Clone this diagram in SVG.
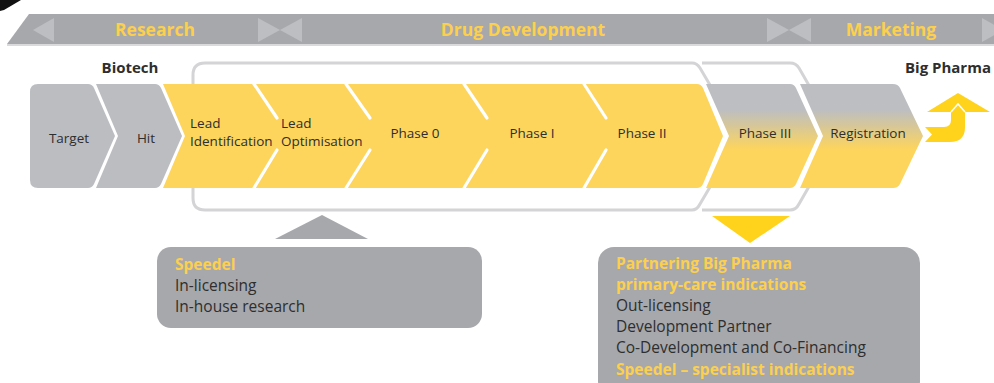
<svg xmlns="http://www.w3.org/2000/svg" width="994" height="383" viewBox="0 0 994 383">
<style>
text{font-family:"Open Sans","Liberation Sans",sans-serif;}
.hdr{font-size:17.5px;font-weight:bold;fill:#FCD04E;text-anchor:middle;}
.lbl{font-size:13.5px;fill:#2E2E2E;}
.mid{text-anchor:middle;}
.who{font-size:15px;font-weight:bold;fill:#2E2E2E;}
.box{font-size:15.5px;fill:#2E2E2E;}
.ybox{font-size:15.5px;font-weight:bold;fill:#FCD04E;}
.band-tri{fill:#BDBEC2;}
.sep{stroke:#FFFFFF;stroke-width:3.2;stroke-linecap:round;fill:none;}
.bracket{fill:none;stroke:#D4D4D6;stroke-width:3;}
</style>
<defs>
<linearGradient id="gy" gradientUnits="userSpaceOnUse" x1="0" y1="84" x2="0" y2="188">
<stop offset="0.25" stop-color="#BDBEC1"/>
<stop offset="0.63" stop-color="#FDD55D"/>
</linearGradient>
</defs>
<rect width="994" height="383" fill="#FFFFFF"/>
<polygon points="0,0 21,0 4,10 0,11" fill="#111111"/>
<g id="band">
<rect x="7" y="44" width="987" height="2" fill="#DADADC"/>
<polygon points="29,14 994,14 994,44 7,44" fill="#A7A8AC"/>
<polygon class="band-tri" points="33,30 54,18 54,42"/>
<polygon class="band-tri" points="258,18 280,30 258,42"/>
<polygon class="band-tri" points="302,18 280,30 302,42"/>
<polygon class="band-tri" points="767,18 789,30 767,42"/>
<polygon class="band-tri" points="811,18 789,30 811,42"/>
<polygon class="band-tri" points="982,18 1003,30 982,42"/>
<text class="hdr" x="155" y="36">Research</text>
<text class="hdr" x="523" y="36">Drug Development</text>
<text class="hdr" x="891" y="36">Marketing</text>
</g>
<g id="connectors">
<path class="bracket" d="M205 63 H692 Q697 63 700 68 L740 136 L700 204 Q697 210 692 210 H205 Q193 210 193 198 V75 Q193 63 205 63 Z"/>
<path class="bracket" d="M702 63 H790 Q796 63 799 68 L838 136 L799 204 Q796 210 790 210 H702"/>
<polygon points="322,215 368,239 275,239" fill="#A7A8AC"/>
<polygon points="712,216 790,216 750,243" fill="#FFD31C"/>
<path d="M925 127 H944 Q951 127 951 120 V112 H927 L958 93 L990 112 H965 V127 Q965 142 950 142 H925 L932 134.5 Z" fill="#FFD31C"/>
<path d="M951 112 L958 104 L965 112" fill="none" stroke="#FFFFFF" stroke-width="1.5"/>
</g>
<g id="biotech"><text class="who mid" x="130" y="73">Biotech</text></g>
<g id="bigpharma"><text class="who" x="905" y="73">Big Pharma</text></g>
<g id="target">
<path d="M38 84 H88 Q92 84 94 88 L115 136 L94 184 Q92 188 88 188 H38 Q30 188 30 180 V92 Q30 84 38 84 Z" fill="#BCBDC1"/>
<text class="lbl mid" x="69" y="143">Target</text>
</g>
<g id="hit">
<path d="M96 84 H155 Q159 84 161 88 L182 136 L161 184 Q159 188 155 188 H96 L118 136 Z" fill="#BCBDC1"/>
<text class="lbl mid" x="146" y="143">Hit</text>
</g>
<g id="yellow-phases">
<path d="M163 84 H697 Q701 84 703 88 L723 136 L703 184 Q701 188 697 188 H163 L185 136 Z" fill="#FDD55D"/>
<path class="sep" d="M254 84 L277 118 M277 150 L254 188"/>
<path class="sep" d="M346 84 L370 118 M370 150 L346 188"/>
<path class="sep" d="M464 84 L487 118 M487 150 L464 188"/>
<path class="sep" d="M584 84 L606 118 M606 150 L584 188"/>
</g>
<g id="lead-identification">
<text class="lbl" x="190" y="127.5">Lead</text>
<text class="lbl" x="190" y="146">Identification</text>
</g>
<g id="lead-optimisation">
<text class="lbl" x="281" y="127.5">Lead</text>
<text class="lbl" x="281" y="146">Optimisation</text>
</g>
<g id="phase0"><text class="lbl mid" x="415" y="138">Phase 0</text></g>
<g id="phase1"><text class="lbl mid" x="532" y="138">Phase I</text></g>
<g id="phase2"><text class="lbl mid" x="642" y="138">Phase II</text></g>
<g id="phase3">
<path d="M706 84 H790 Q794 84 796 88 L818 136 L796 184 Q794 188 790 188 H706 L729 136 Z" fill="url(#gy)"/>
<text class="lbl mid" x="765" y="138">Phase III</text>
</g>
<g id="registration">
<path d="M800 84 H893 Q898 84 900 88 L923 136 L900 184 Q898 188 893 188 H800 L823 136 Z" fill="url(#gy)"/>
<text class="lbl mid" x="868" y="138">Registration</text>
</g>
<g id="speedel-box">
<rect x="157" y="247" width="325" height="81" rx="14" fill="#A7A8AC"/>
<text class="ybox" x="175" y="270">Speedel</text>
<text class="box" x="175" y="291">In-licensing</text>
<text class="box" x="175" y="312">In-house research</text>
</g>
<g id="partner-box">
<rect x="598" y="247" width="322" height="150" rx="16" fill="#A7A8AC"/>
<text class="ybox" x="616" y="269">Partnering Big Pharma</text>
<text class="ybox" x="616" y="290">primary-care indications</text>
<text class="box" x="616" y="311">Out-licensing</text>
<text class="box" x="616" y="332">Development Partner</text>
<text class="box" x="616" y="353">Co-Development and Co-Financing</text>
<text class="ybox" x="616" y="375">Speedel – specialist indications</text>
</g>
</svg>
